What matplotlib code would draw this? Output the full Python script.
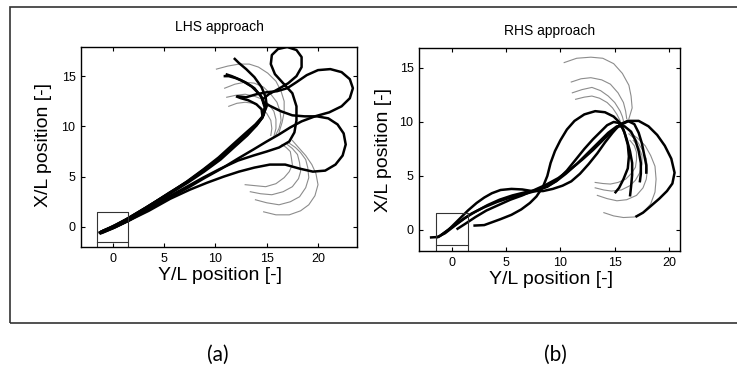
import matplotlib
matplotlib.use("Agg")
import matplotlib.pyplot as plt
from matplotlib.patches import Rectangle

plt.rcParams['font.family'] = ['Liberation Sans', 'DejaVu Sans']

# ---------------- LHS approach: vehicle paths (Y/L, X/L) ----------------
lhs_paths_x = [
    [-1.4, -0.3, 1.2, 3.2, 5.4, 7.2, 8.8, 10.3, 11.7, 12.9, 13.9, 14.6, 15.0, 14.9, 14.5, 13.8, 13.0, 12.3, 11.8],
    [-1.2, 0.0, 1.4, 3.4, 5.5, 7.3, 8.9, 10.4, 11.8, 13.0, 14.0, 14.6, 14.8, 14.5, 13.8, 12.9, 12.0, 11.3, 10.8],
    [-1.0, 0.3, 1.6, 3.5, 5.6, 7.4, 9.0, 10.6, 12.0, 13.2, 14.1, 14.7, 14.9, 14.4, 13.5, 12.5, 11.6, 11.0],
    [-1.3, 0.1, 1.5, 3.3, 5.4, 7.3, 8.9, 10.5, 11.9, 13.1, 14.0, 14.6, 14.5, 14.0, 13.2, 12.5, 12.0],
    [-1.2, 0.2, 1.6, 3.5, 5.6, 7.4, 8.8, 10.5, 12.2, 13.7, 15.0, 16.2, 17.2, 17.7, 17.9, 17.9, 17.5, 16.6,
     15.8, 15.4, 15.5, 16.1, 17.0, 17.9, 18.4, 18.4, 17.9, 17.1, 16.1, 15.2, 14.5],
    [-1.1, 0.3, 1.7, 3.6, 5.7, 7.5, 9.0, 10.6, 12.2, 13.7, 15.0, 16.2, 17.3, 18.4, 19.7, 21.1, 22.3, 23.1,
     23.4, 23.1, 22.3, 21.2, 20.0, 18.9, 17.9, 17.0, 16.0, 15.0, 14.0, 13.0, 12.1],
    [-1.3, 0.0, 1.5, 3.5, 5.6, 7.5, 9.2, 10.8, 12.3, 13.8, 15.3, 16.8, 18.2, 19.5, 20.7, 21.7, 22.4, 22.7,
     22.5, 21.9, 21.0, 19.9, 18.7, 17.5, 16.4, 15.4, 14.6],
]
lhs_paths_y = [
    [-0.6, -0.1, 0.7, 1.9, 3.3, 4.5, 5.7, 6.9, 8.2, 9.3, 10.2, 11.0, 12.0, 12.9, 13.9, 14.9, 15.7, 16.3, 16.8],
    [-0.5, 0.0, 0.8, 2.0, 3.4, 4.5, 5.6, 6.8, 8.0, 9.1, 10.1, 10.9, 11.9, 12.9, 13.8, 14.4, 14.8, 15.0, 15.0],
    [-0.4, 0.2, 0.9, 2.1, 3.4, 4.6, 5.8, 7.0, 8.2, 9.3, 10.3, 11.1, 12.0, 13.1, 14.0, 14.6, 15.0, 15.2],
    [-0.7, -0.1, 0.6, 1.8, 3.2, 4.4, 5.5, 6.7, 8.0, 9.1, 10.1, 10.9, 11.7, 12.2, 12.6, 12.8, 13.0],
    [-0.5, 0.1, 0.8, 1.9, 3.1, 4.1, 4.9, 5.8, 6.6, 7.1, 7.5, 7.9, 8.5, 9.4, 10.6, 12.0, 13.3, 14.3,
     15.2, 16.2, 17.1, 17.7, 17.9, 17.6, 16.9, 15.9, 15.0, 14.3, 13.7, 13.2, 12.6],
    [-0.6, 0.0, 0.7, 1.8, 3.0, 4.0, 4.9, 5.8, 6.8, 7.7, 8.5, 9.2, 9.9, 10.5, 11.0, 11.4, 12.0, 12.8,
     13.8, 14.7, 15.4, 15.7, 15.6, 15.1, 14.4, 13.8, 13.5, 13.4, 13.2, 12.9, 13.0],
    [-0.6, -0.1, 0.6, 1.6, 2.8, 3.7, 4.4, 5.0, 5.5, 5.9, 6.2, 6.2, 5.8, 5.5, 5.6, 6.2, 7.1, 8.2,
     9.3, 10.2, 10.8, 11.0, 11.0, 11.1, 11.5, 12.0, 12.4],
]
# grey target arcs
lhs_arcs_x = [
    [10.1, 11.2, 12.3, 13.3, 14.2, 15.1, 15.9, 16.4, 16.7, 16.7, 16.5, 16.2],
    [10.9, 11.9, 12.9, 13.8, 14.7, 15.4, 16.0, 16.3, 16.4, 16.2, 15.9],
    [11.1, 12.0, 12.9, 13.8, 14.6, 15.2, 15.7, 15.9, 15.9, 15.7],
    [11.3, 12.1, 12.9, 13.7, 14.4, 15.0, 15.4, 15.5, 15.4],
    [14.7, 15.9, 17.2, 18.3, 19.1, 19.7, 20.0, 19.8, 19.4, 18.8, 18.1, 17.5],
    [13.9, 15.0, 16.2, 17.3, 18.2, 18.8, 19.1, 19.0, 18.8, 18.3, 17.8, 17.1],
    [13.4, 14.4, 15.5, 16.6, 17.5, 18.1, 18.3, 18.2, 18.0, 17.5, 17.0],
    [12.9, 13.9, 14.9, 15.9, 16.7, 17.2, 17.5, 17.4, 17.3, 16.9, 16.5],
]
lhs_arcs_y = [
    [15.7, 16.0, 16.2, 16.2, 15.9, 15.3, 14.5, 13.5, 12.5, 11.4, 10.4, 9.4],
    [13.8, 14.2, 14.4, 14.3, 13.9, 13.2, 12.4, 11.5, 10.6, 9.8, 9.2],
    [12.9, 13.1, 13.2, 13.0, 12.7, 12.2, 11.5, 10.7, 9.8, 9.0],
    [12.0, 12.3, 12.4, 12.3, 11.9, 11.3, 10.6, 9.8, 9.1],
    [1.5, 1.2, 1.2, 1.6, 2.2, 3.1, 4.2, 5.3, 6.2, 7.1, 7.9, 8.6],
    [2.7, 2.4, 2.2, 2.5, 3.0, 3.9, 4.9, 5.9, 6.7, 7.4, 7.9, 8.4],
    [3.5, 3.3, 3.2, 3.5, 4.0, 4.8, 5.5, 6.4, 7.2, 7.8, 8.2],
    [4.2, 4.1, 4.0, 4.3, 4.9, 5.5, 6.2, 6.9, 7.5, 7.9, 8.2],
]
lhs_box_x = [-1.5, 1.5, 1.5, -1.5, -1.5]
lhs_box_y = [-3.0, -3.0, 1.5, 1.5, -3.0]
lhs_bar_y = -1.5

# ---------------- RHS approach ----------------
rhs_paths_x = [
    [2.0, 3.0, 4.5, 5.5, 6.4, 7.2, 7.8, 8.4, 8.8, 9.1, 9.5, 10.0, 10.6, 11.3, 12.2, 13.2, 14.1, 14.9,
     15.5, 15.9, 16.2, 16.3, 16.2, 15.8, 15.4, 15.0],
    [-2.0, -1.2, -0.3, 0.6, 1.5, 2.3, 3.0, 3.7, 4.5, 5.5, 6.5, 7.4, 8.4, 9.3, 10.2, 11.0, 11.8, 12.6,
     13.4, 14.1, 14.8, 15.5, 16.2, 16.8, 17.2, 17.5, 17.7, 17.9, 17.9],
    [0.45, 1.3, 2.2, 3.2, 4.3, 5.4, 6.5, 7.6, 8.7, 9.8, 10.9, 12.0, 13.0, 13.9, 14.7, 15.5, 16.3, 17.2,
     18.1, 18.9, 19.6, 20.2, 20.5, 20.3, 19.8, 19.1, 18.3, 17.6, 16.9],
    [-1.4, -0.6, 0.3, 1.2, 2.2, 3.3, 4.4, 5.6, 6.8, 7.9, 8.8, 9.7, 10.6, 11.4, 12.2, 13.0, 13.7, 14.3,
     14.9, 15.4, 15.8, 16.1, 16.4, 16.6, 16.6, 16.5, 16.4],
    [-1.0, -0.2, 0.8, 1.8, 3.0, 4.2, 5.4, 6.6, 7.7, 8.7, 9.6, 10.5, 11.5, 12.5, 13.5, 14.4, 15.2, 15.9,
     16.5, 16.9, 17.2, 17.4, 17.4, 17.3],
]
rhs_paths_y = [
    [0.4, 0.45, 1.0, 1.4, 1.9, 2.5, 3.1, 4.0, 5.0, 6.2, 7.3, 8.3, 9.3, 10.1, 10.7, 11.0, 10.9, 10.5,
     9.9, 9.0, 7.9, 6.8, 5.7, 4.7, 3.9, 3.4],
    [-0.7, -0.65, 0.0, 0.9, 1.8, 2.5, 3.0, 3.4, 3.7, 3.8, 3.75, 3.6, 3.6, 3.8, 4.1, 4.5, 5.2, 6.1,
     7.1, 8.1, 9.0, 9.8, 10.1, 9.8, 9.0, 8.0, 7.0, 6.0, 5.2],
    [0.05, 0.6, 1.2, 1.8, 2.3, 2.8, 3.2, 3.7, 4.2, 4.8, 5.6, 6.5, 7.4, 8.3, 9.1, 9.7, 10.1, 10.1,
     9.6, 8.8, 7.8, 6.6, 5.3, 4.3, 3.6, 2.9, 2.2, 1.6, 1.2],
    [-0.7, -0.3, 0.4, 1.1, 1.7, 2.3, 2.8, 3.2, 3.5, 3.7, 4.0, 4.6, 5.5, 6.5, 7.5, 8.4, 9.1, 9.7,
     10.0, 9.9, 9.3, 8.4, 7.3, 6.2, 5.1, 4.0, 3.1],
    [-0.5, 0.1, 0.8, 1.5, 2.1, 2.6, 3.0, 3.3, 3.6, 4.0, 4.5, 5.2, 6.1, 7.1, 8.1, 9.0, 9.6, 9.6,
     9.1, 8.3, 7.3, 6.2, 5.2, 4.4],
]
rhs_arcs_x = [
    [10.35, 11.5, 12.8, 13.9, 14.9, 15.7, 16.3, 16.5, 16.6, 16.3],
    [11.0, 11.9, 12.8, 13.8, 14.6, 15.3, 15.8, 16.0, 16.1],
    [11.1, 12.0, 12.9, 13.7, 14.4, 15.0, 15.5, 15.7, 15.8],
    [11.4, 12.2, 12.9, 13.6, 14.3, 14.8, 15.2, 15.5],
    [14.0, 14.9, 15.8, 16.8, 17.6, 18.3, 18.7, 18.8, 18.7, 18.3, 17.8, 17.1, 16.4],
    [13.4, 14.3, 15.2, 16.1, 17.0, 17.6, 17.9, 18.0, 17.9, 17.5, 17.0, 16.3],
    [13.2, 14.0, 14.7, 15.6, 16.4, 16.9, 17.3, 17.5, 17.5, 17.2, 16.7],
    [13.2, 13.9, 14.6, 15.3, 16.0, 16.5, 16.9, 17.0, 17.0, 16.8, 16.4],
]
rhs_arcs_y = [
    [15.5, 15.9, 16.0, 15.9, 15.4, 14.5, 13.4, 12.4, 11.3, 10.3],
    [13.7, 14.0, 14.1, 13.9, 13.5, 12.7, 11.8, 11.0, 10.3],
    [12.7, 13.0, 13.2, 12.9, 12.4, 11.8, 11.0, 10.5, 10.1],
    [12.1, 12.3, 12.4, 12.2, 11.8, 11.3, 10.7, 10.1],
    [1.6, 1.3, 1.15, 1.2, 1.6, 2.4, 3.5, 4.7, 5.9, 6.9, 7.8, 8.5, 9.0],
    [3.2, 2.9, 2.7, 2.8, 3.2, 3.9, 4.7, 5.6, 6.6, 7.5, 8.3, 8.9],
    [3.9, 3.7, 3.6, 3.7, 4.1, 4.6, 5.3, 6.1, 6.9, 7.7, 8.3],
    [4.4, 4.3, 4.25, 4.4, 4.7, 5.2, 5.8, 6.5, 7.2, 7.8, 8.3],
]
rhs_box_x = [-1.45, 1.5, 1.5, -1.45, -1.45]
rhs_box_y = [-3.0, -3.0, 1.6, 1.6, -3.0]
rhs_bar_y = -1.4

W, H = 737, 392
fig = plt.figure(figsize=(W / 100, H / 100), dpi=100)


def px_axes(left, top, right, bottom):
    return fig.add_axes([left / W, 1 - bottom / H, (right - left) / W, (bottom - top) / H])


def draw_panel(ax, px, py, ax_x, ax_y, bx, by, bar, xlim, ylim):
    for xs, ys in zip(ax_x, ax_y):
        ax.plot(xs, ys, color='#8c8c8c', lw=0.8)
    for xs, ys in zip(px, py):
        ax.plot(xs, ys, color='black', lw=1.8, solid_capstyle='butt')
    ax.plot(bx, by, color='#333333', lw=0.8)
    ax.plot([bx[0], bx[1]], [bar, bar], color='#333333', lw=0.8)
    ax.set_xlim(*xlim)
    ax.set_ylim(*ylim)
    ax.set_xticks([0, 5, 10, 15, 20])
    ax.set_yticks([0, 5, 10, 15])
    ax.tick_params(direction='in', top=True, right=True, length=3, width=0.8,
                   labelsize=9, pad=4)
    for s in ax.spines.values():
        s.set_linewidth(1.0)


ax1 = px_axes(81, 47, 357, 247)
draw_panel(ax1, lhs_paths_x, lhs_paths_y, lhs_arcs_x, lhs_arcs_y,
           lhs_box_x, lhs_box_y, lhs_bar_y, (-3.1, 23.8), (-2.0, 17.9))
ax2 = px_axes(419, 48, 680, 251)
draw_panel(ax2, rhs_paths_x, rhs_paths_y, rhs_arcs_x, rhs_arcs_y,
           rhs_box_x, rhs_box_y, rhs_bar_y, (-3.0, 21.0), (-1.95, 16.85))

fig.text(219 / W, 1 - 27 / H, 'LHS approach', ha='center', va='center', fontsize=10)
fig.text(550 / W, 1 - 31 / H, 'RHS approach', ha='center', va='center', fontsize=10)
fig.text(43 / W, 1 - 145 / H, 'X/L position [-]', rotation=90, ha='center', va='center', fontsize=14)
fig.text(383 / W, 1 - 150 / H, 'X/L position [-]', rotation=90, ha='center', va='center', fontsize=14)
fig.text(220 / W, 1 - 276 / H, 'Y/L position [-]', ha='center', va='center', fontsize=14)
fig.text(551 / W, 1 - 280 / H, 'Y/L position [-]', ha='center', va='center', fontsize=14)

# outer frame and sub-figure captions
fig.add_artist(Rectangle((10 / W, 1 - 323 / H), 740 / W, 316 / H, transform=fig.transFigure,
                         fill=False, edgecolor='#333333', lw=1.2))
fig.text(218 / W, 1 - 355 / H, '(a)', ha='center', va='center', fontsize=15,
         family=['Lato', 'DejaVu Sans'])
fig.text(555 / W, 1 - 355 / H, '(b)', ha='center', va='center', fontsize=15,
         family=['Lato', 'DejaVu Sans'])

fig.savefig('out.png', dpi=100)
